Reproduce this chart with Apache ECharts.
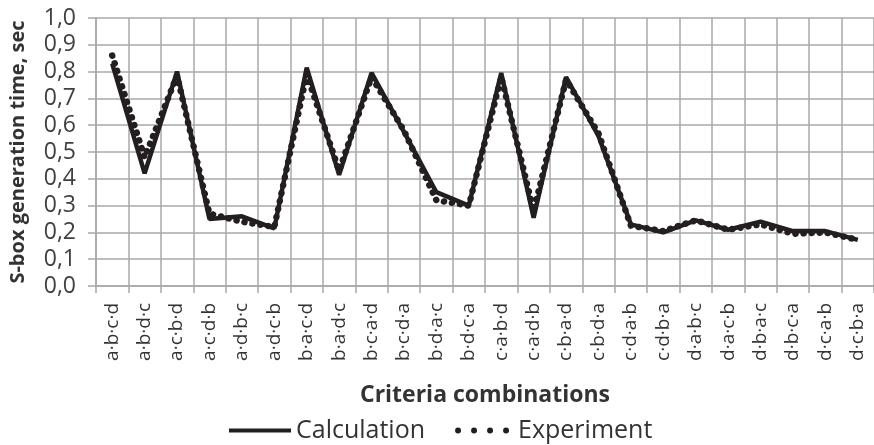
<!DOCTYPE html>
<html lang="en">
<head>
    <meta charset="UTF-8">
    <title>S-box generation time</title>
    <script src="https://cdn.jsdelivr.net/npm/echarts@6/dist/echarts.min.js"></script>
    <style>
        html, body { margin: 0; padding: 0; background: #fff; }
        #main { width: 874px; height: 445px; }
    </style>
</head>
<body>
<div id="main"></div>
<script type="text/javascript">
    var categories = ['a·b·c·d', 'a·b·d·c', 'a·c·b·d', 'a·c·d·b', 'a·d·b·c', 'a·d·c·b',
        'b·a·c·d', 'b·a·d·c', 'b·c·a·d', 'b·c·d·a', 'b·d·a·c', 'b·d·c·a',
        'c·a·b·d', 'c·a·d·b', 'c·b·a·d', 'c·b·d·a', 'c·d·a·b', 'c·d·b·a',
        'd·a·b·c', 'd·a·c·b', 'd·b·a·c', 'd·b·c·a', 'd·c·a·b', 'd·c·b·a'];
    var calculation = [0.83, 0.42, 0.80, 0.25, 0.26, 0.215, 0.815, 0.415, 0.795, 0.575, 0.35, 0.30,
        0.795, 0.255, 0.78, 0.56, 0.23, 0.20, 0.245, 0.21, 0.24, 0.205, 0.205, 0.172];
    var experiment = [0.86, 0.48, 0.785, 0.27, 0.24, 0.22, 0.79, 0.43, 0.78, 0.58, 0.32, 0.30,
        0.78, 0.28, 0.77, 0.57, 0.225, 0.205, 0.245, 0.21, 0.23, 0.195, 0.20, 0.172];
    var yTicks = ['0,0', '0,1', '0,2', '0,3', '0,4', '0,5', '0,6', '0,7', '0,8', '0,9', '1,0'];

    var font = 'Open Sans';
    var gridColor = '#a8a8a8';
    var ink = '#231f20';
    // legend icons: a short solid bar and four round dots
    var solidIcon = 'path://M0,0h62v4h-62z';
    var dotsIcon = 'path://M0,3a3,3 0 1,0 6,0a3,3 0 1,0 -6,0z' +
        'M16,3a3,3 0 1,0 6,0a3,3 0 1,0 -6,0z' +
        'M32,3a3,3 0 1,0 6,0a3,3 0 1,0 -6,0z' +
        'M48,3a3,3 0 1,0 6,0a3,3 0 1,0 -6,0z';

    var myChart = echarts.init(document.getElementById('main'));

    var option = {
        animation: false,
        textStyle: {fontFamily: font},
        grid: {left: 96, top: 18, width: 788, bottom: 159, containLabel: false},
        legend: {
            left: 224,
            top: 413,
            itemWidth: 62,
            itemHeight: 6,
            itemGap: 30,
            symbolKeepAspect: true,
            itemStyle: {borderWidth: 0},
            textStyle: {fontFamily: font, fontSize: 25, color: '#333'},
            data: [
                {name: 'Calculation', icon: solidIcon},
                {name: 'Experiment', icon: dotsIcon}
            ]
        },
        xAxis: {
            type: 'category',
            data: categories,
            name: 'Criteria combinations',
            nameLocation: 'middle',
            nameGap: 98,
            nameTextStyle: {fontFamily: font, fontSize: 23, fontWeight: 'bold', color: '#333'},
            axisLine: {lineStyle: {color: gridColor, width: 1.5}},
            axisTick: {show: true, length: 7, lineStyle: {color: gridColor, width: 1.5}},
            axisLabel: {rotate: 90, margin: 17, fontSize: 19, color: '#333', interval: 0},
            splitLine: {show: true, lineStyle: {color: gridColor, width: 1.5}}
        },
        yAxis: {
            type: 'value',
            min: 0,
            max: 1,
            interval: 0.1,
            name: 'S-box generation time, sec',
            nameLocation: 'middle',
            nameGap: 68,
            nameTextStyle: {fontFamily: font, fontSize: 20, fontWeight: 'bold', color: '#333'},
            axisLine: {show: true, lineStyle: {color: gridColor, width: 1.5}},
            axisTick: {show: true, length: 8, lineStyle: {color: gridColor, width: 1.5}},
            axisLabel: {
                margin: 20,
                fontSize: 23,
                color: '#404040',
                formatter: function (v) { return yTicks[Math.round(v * 10)]; }
            },
            splitLine: {show: true, lineStyle: {color: gridColor, width: 1.5}}
        },
        series: [
            {
                name: 'Calculation',
                type: 'line',
                data: calculation,
                symbol: 'none',
                lineStyle: {color: ink, width: 4.5},
                itemStyle: {color: ink},
                z: 3
            },
            {
                name: 'Experiment',
                type: 'line',
                data: experiment,
                symbol: 'none',
                lineStyle: {color: ink, width: 6.5, type: [0.1, 8], cap: 'round'},
                itemStyle: {color: ink},
                z: 4
            }
        ]
    };
    myChart.setOption(option);
</script>
</body>
</html>
